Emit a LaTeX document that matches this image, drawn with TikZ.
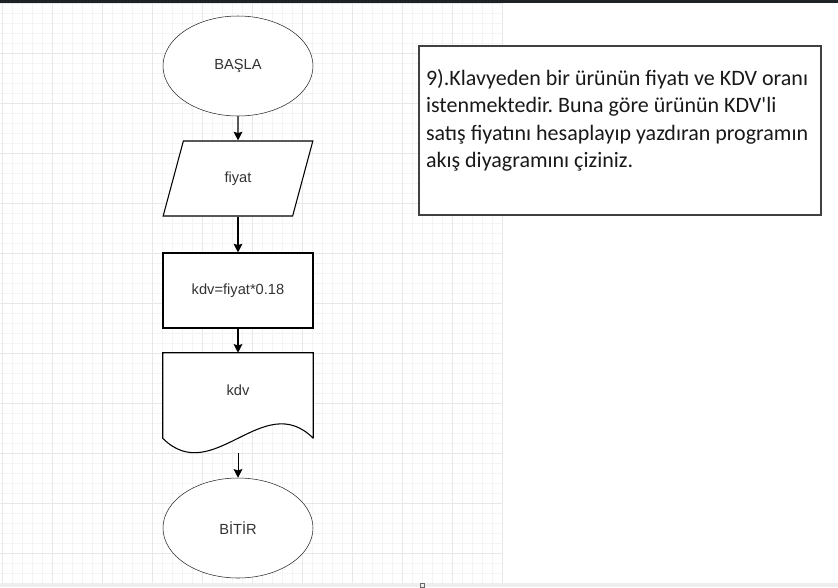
\documentclass[tikz,border=0pt]{standalone}
\usepackage{fontspec}
\setmainfont{Liberation Sans}
\newfontfamily\soruyazi{Carlito}
\usetikzlibrary{arrows,arrows.meta,shapes}

\definecolor{izgara}{HTML}{F4F4F4}
\definecolor{izgarakoyu}{HTML}{E8E8E8}
\definecolor{yazi}{HTML}{333333}
\definecolor{ustcubuk}{HTML}{1E2226}
\definecolor{altcubuk}{HTML}{EEEEEE}

\pgfdeclarelayer{izgarakatman}
\pgfdeclarelayer{sekilkatman}
\pgfsetlayers{izgarakatman,sekilkatman,main}

\begin{document}
\begin{tikzpicture}[x=0.75pt,y=-0.75pt,node distance=84pt,>={Stealth[length=6.5pt,width=6.5pt,inset=1pt]}]
  \tikzstyle{terminal}=[ellipse,draw=black!85,fill=white,minimum width=112.5pt,minimum height=75pt,inner sep=0pt,text=yazi,font=\fontsize{11}{13}\selectfont]
  \tikzstyle{girdikutu}=[trapezium,trapezium left angle=70,trapezium right angle=110,trapezium stretches=true,draw,line width=0.8pt,fill=white,minimum width=112.5pt,minimum height=56.25pt,inner sep=0pt,text=yazi,font=\fontsize{11}{13}\selectfont]
  \tikzstyle{islemkutu}=[rectangle,draw,line width=0.8pt,fill=white,minimum width=112.5pt,minimum height=56.25pt,inner sep=0pt,text=yazi,font=\fontsize{11}{13}\selectfont]
  \tikzstyle{belge}=[rectangle,minimum width=112.5pt,minimum height=63.75pt,inner sep=0pt,text depth=8pt,text=yazi,font=\fontsize{11}{13}\selectfont]
  \tikzstyle{gelen}=[<-,line width=1pt]
  \tikzstyle{sorukutu}=[rectangle,draw=black!75,line width=1.1pt,fill=white,inner sep=0pt,text=black!90,font=\soruyazi\fontsize{16.5}{20.5}\selectfont]

  \useasboundingbox (0,0) rectangle (838,587);
  % izgara
  \begin{pgfonlayer}{izgarakatman}
  \foreach \gx in {2,12,...,502} \draw[izgara,line width=0.6pt] (\gx,3) -- (\gx,583);
  \foreach \gy in {3,13,...,583} \draw[izgara,line width=0.6pt] (0,\gy) -- (502,\gy);
  \foreach \gx in {2,52,...,502} \draw[izgarakoyu,line width=0.7pt] (\gx,3) -- (\gx,583);
  \foreach \gy in {3,53,...,583} \draw[izgarakoyu,line width=0.7pt] (0,\gy) -- (502,\gy);
  \fill[ustcubuk] (0,0) rectangle (838,3);
  \fill[altcubuk] (0,583) rectangle (838,587);
  \draw[black!60,line width=0.5pt] (420,583.5) rectangle (424,587);
  \end{pgfonlayer}

    \node [terminal] (basla) at (238,66) {BAŞLA}; %baslangic
    \node [girdikutu] (fiyat) [below of=basla,node distance=84.375pt] {fiyat}
        edge[gelen] (basla);
    \node [islemkutu] (islem) [below of=fiyat] {kdv=fiyat*0.18}
        edge[gelen] (fiyat);
    \node [belge] (cikti) [below of=islem,node distance=78.75pt] {kdv}
        edge[gelen] (islem);
    \begin{pgfonlayer}{sekilkatman}
    \draw[line width=0.8pt,fill=white] (cikti.south east) -- (cikti.north east) -- (cikti.north west) -- (cikti.south west)
        .. controls +(50,50) and +(-50,-50) .. (cikti.south east);
    \end{pgfonlayer}
    \node [terminal] (bitir) [below of=cikti,node distance=99.375pt] {BİTİR}
        edge[gelen,line width=0.7pt,shorten >=11.25pt] (cikti);

    \node [sorukutu] (soru) at (620,130.5) {\begin{minipage}[c][126.75pt][t]{301.5pt}\raggedright\frenchspacing\leftskip=5.25pt
      \vspace*{17.5pt}9).Klavyeden bir ürünün fiyatı ve KDV oranı\\
      istenmektedir. Buna göre ürünün KDV'li\\
      satış fiyatını hesaplayıp yazdıran programın\\
      akış diyagramını çiziniz.\end{minipage}};
\end{tikzpicture}
\end{document}
